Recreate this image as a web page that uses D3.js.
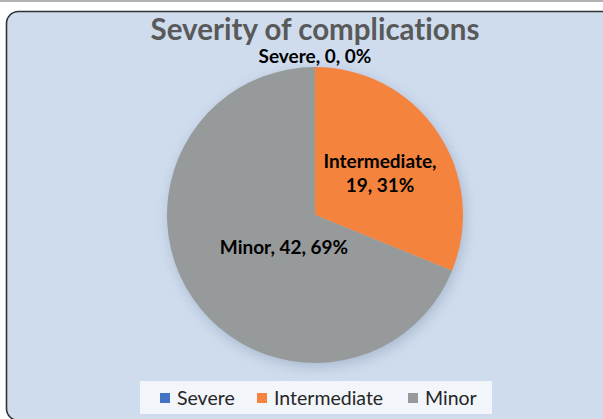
<!DOCTYPE html>
<html>
<head>
<meta charset="utf-8">
<script src="https://cdn.jsdelivr.net/npm/d3@7"></script>
<style>
  body { margin: 0; background: #fff; }
  svg { display: block; font-family: Lato, "Open Sans", sans-serif; font-variant-ligatures: none; }
</style>
</head>
<body>
<div id="chart"></div>
<script>
// data
var categories = ["Severe", "Intermediate", "Minor"];
var counts = [0, 19, 42];
var colors = ["#4472c4", "#f4843d", "#979a9a"];

var svg_w = 603, svg_h = 419;
var cx = 315, cy = 215, radius = 148;

var svg = d3.select("#chart").append("svg")
    .attr("width", svg_w)
    .attr("height", svg_h);

var defs = svg.append("defs");
var shadow = defs.append("filter").attr("id", "shadow")
    .attr("x", "-30%").attr("y", "-30%").attr("width", "160%").attr("height", "160%");
shadow.append("feDropShadow")
    .attr("dx", 2).attr("dy", 4).attr("stdDeviation", 7)
    .attr("flood-color", "#8fa1b8").attr("flood-opacity", 0.6);

//top gray rule and frame
svg.append("rect").attr("x", 0).attr("y", 0).attr("width", svg_w).attr("height", 2).attr("fill", "#b3b3b3");
svg.append("rect")
    .attr("x", 6.5).attr("y", 11.5)
    .attr("width", svg_w + 20).attr("height", 409)
    .attr("rx", 12).attr("ry", 12)
    .attr("fill", "#cfdcee")
    .attr("stroke", "#333")
    .attr("stroke-width", 1.6);

//title
svg.append("text")
    .attr("x", 315).attr("y", 40)
    .attr("text-anchor", "middle")
    .attr("font-size", 29.5).attr("font-weight", "bold")
    .attr("fill", "#595959")
    .text("Severity of complications");

//pie
var total = d3.sum(counts);
var pie = d3.pie().sort(null).value(function(d) { return d.value; });
var data = categories.map(function(c, i) { return {name: c, value: counts[i], color: colors[i]}; });
var arcs = pie(data);
var arc = d3.arc().innerRadius(0).outerRadius(radius);

var g = svg.append("g").attr("transform", "translate(" + cx + "," + cy + ")");
g.append("g").attr("filter", "url(#shadow)")
    .selectAll("path")
    .data(arcs)
    .enter()
    .append("path")
    .attr("d", arc)
    .attr("fill", function(d) { return d.data.color; });

//data labels
function pct(v) { return Math.round(v / total * 100) + "%"; }
var labelPos = {
    "Severe": {x: 0, y: -152, lines: 1},
    "Intermediate": {x: 65, y: -47, lines: 2},
    "Minor": {x: -31, y: 39, lines: 1}
};
arcs.forEach(function(d) {
    var p = labelPos[d.data.name];
    var t = g.append("text")
        .attr("text-anchor", "middle")
        .attr("font-size", 19).attr("font-weight", "bold")
        .attr("fill", "#000");
    if (p.lines == 2) {
        t.append("tspan").attr("x", p.x).attr("y", p.y).text(d.data.name + ",");
        t.append("tspan").attr("x", p.x).attr("y", p.y + 24).text(d.data.value + ", " + pct(d.data.value));
    } else {
        t.attr("x", p.x).attr("y", p.y).text(d.data.name + ", " + d.data.value + ", " + pct(d.data.value));
    }
});

//legend
svg.append("rect")
    .attr("x", 140).attr("y", 381)
    .attr("width", 352).attr("height", 33)
    .attr("fill", "#f2f5fa");

var legendX = [160, 257, 408];
var legend = svg.selectAll(".legend")
    .data(data)
    .enter()
    .append("g")
    .attr("class", "legend")
    .attr("transform", function(d, i) { return "translate(" + legendX[i] + ",393)"; });

legend.append("rect")
    .attr("width", 10).attr("height", 10)
    .attr("fill", function(d) { return d.color; });

legend.append("text")
    .attr("x", 17).attr("y", 5)
    .attr("dy", "0.36em")
    .attr("font-size", 19.5)
    .attr("fill", "#262626")
    .text(function(d) { return d.name; });
</script>
</body>
</html>
